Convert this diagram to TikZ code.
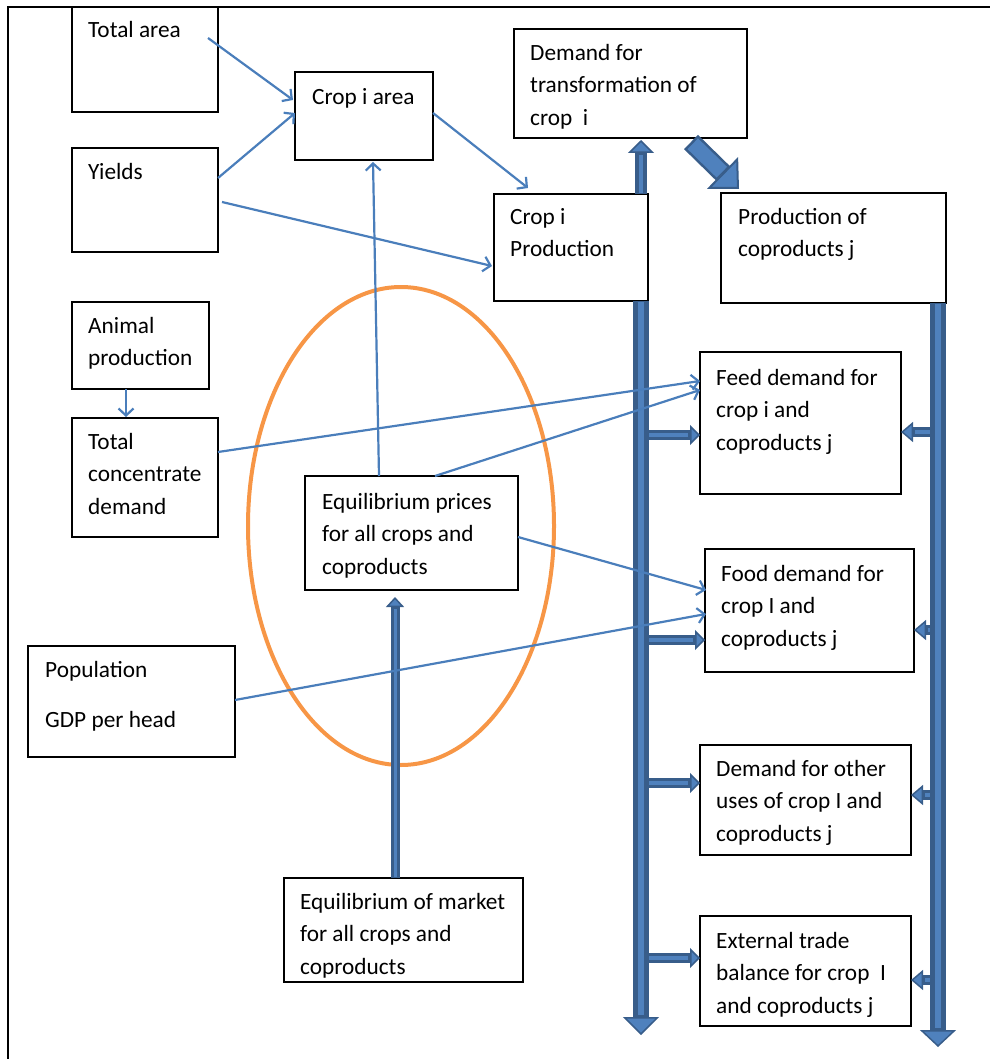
\documentclass[tikz,border=0pt]{standalone}
\usepackage{fontspec}
\setmainfont{Carlito}
\usetikzlibrary{arrows.meta,calc}
\definecolor{bdark}{HTML}{385D8A}
\definecolor{blight}{HTML}{4F81BD}
\definecolor{bthin}{HTML}{4A7EBB}
\definecolor{orng}{HTML}{F79646}
\newcommand{\st}{\rule{0pt}{18pt}}
\newcommand{\barrow}[5]{%
  \draw[draw=bdark,line width=#1pt,-{Triangle[length=#3pt,width=#2pt,fill=blight,line width=1.5pt]}] #4 -- #5;
  \draw[draw=blight,line width=#1pt/3,shorten >=#3pt+2pt,shorten <=1pt] #4 -- #5;}
\newcommand{\wideblock}[5]{%
  \draw[draw=bdark,line width=#1pt,-{Triangle[length=#3pt,width=#2pt,fill=blight,line width=2pt]}] #4 -- #5;
  \draw[draw=blight,line width=#1pt-5pt,shorten >=#3pt+1pt,shorten <=2.5pt] #4 -- #5;}
\begin{document}
\begin{tikzpicture}[x=1pt,y=-1pt,
  box/.style={draw=black,line width=1.5pt,fill=white,rectangle,inner sep=0pt,outer sep=0pt,anchor=north west},
  txt/.style={anchor=north west,inner sep=0pt,align=left,font=\fontsize{23.3}{32.5}\selectfont},
  thinarrow/.style={draw=bthin,line width=2.2pt,-{Straight Barb[length=7pt,width=15pt]}},
  oval/.style={draw=orng,line width=4pt}]
\useasboundingbox (0,0) rectangle (990,1059);
% frame
\draw[line width=2.5pt] (8,1059) -- (8,7) -- (990,7);
% ellipse
\draw[oval] (401,526) ellipse [x radius=153, y radius=239];
% boxes
\node[box,minimum width=146pt,minimum height=105pt] (ta) at (72,7) {};
\node[box,minimum width=146pt,minimum height=104pt] (yl) at (72,148) {};
\node[box,minimum width=138pt,minimum height=88pt] (ca) at (295,72) {};
\node[box,minimum width=233pt,minimum height=109pt] (dt) at (514,29) {};
\node[box,minimum width=154pt,minimum height=107pt] (cp) at (494,194) {};
\node[box,minimum width=225pt,minimum height=110pt] (pc) at (721,193) {};
\node[box,minimum width=137pt,minimum height=87pt] (ap) at (72,302) {};
\node[box,minimum width=146pt,minimum height=119pt] (tc) at (72,418) {};
\node[box,minimum width=213pt,minimum height=114pt] (ep) at (305,476) {};
\node[box,minimum width=201pt,minimum height=142pt] (fd) at (700,352) {};
\node[box,minimum width=209pt,minimum height=123pt] (fo) at (705,549) {};
\node[box,minimum width=207pt,minimum height=111pt] (po) at (28,646) {};
\node[box,minimum width=211pt,minimum height=110pt] (du) at (700,745) {};
\node[box,minimum width=239pt,minimum height=104pt] (em) at (284,878) {};
\node[box,minimum width=211pt,minimum height=110pt] (et) at (700,916) {};
% texts
\node[txt] (ta-t) at (88,19) {\st Total area};
\node[txt] (yl-t) at (88,161) {\st Yields};
\node[txt] (ca-t) at (312,86) {\st Crop i area};
\node[txt] (dt-t) at (530,42) {\st Demand for\\transformation of\\crop~~i};
\node[txt] (cp-t) at (510,206) {\st Crop i\\Production};
\node[txt] (pc-t) at (738,206) {\st Production of\\coproducts j};
\node[txt] (ap-t) at (88,315) {\st Animal\\production};
\node[txt] (tc-t) at (88,431) {\st Total\\concentrate\\demand};
\node[txt] (ep-t) at (322,491) {\st Equilibrium prices\\for all crops and\\coproducts};
\node[txt] (fd-t) at (716,367) {\st Feed demand for\\crop i and\\coproducts j};
\node[txt] (fo-t) at (721,563) {\st Food demand for\\crop I and\\coproducts j};
\node[txt] (po-t) at (45,659) {\st Population\\[17.5pt]GDP per head};
\node[txt] (du-t) at (716,758) {\st Demand for other\\uses of crop I and\\coproducts j};
\node[txt] (em-t) at (300,891) {\st Equilibrium of market\\for all crops and\\coproducts};
\node[txt] (et-t) at (716,930) {\st External trade\\balance for crop~~I\\and coproducts j};
% free ends of the buses
\coordinate (lb) at (641,1035);
\coordinate (rb) at (938,1047);
% branch arrows from left bus
\barrow{10}{20}{10}{($(fd.north west)+(-59,83)$)}{($(fd.north west)+(0,83)$)}
\barrow{10}{20}{10}{($(fo.north west)+(-64,91)$)}{($(fo.north west)+(0,91)$)}
\barrow{10}{20}{10}{($(du.north west)+(-59,38)$)}{($(du.north west)+(0,38)$)}
\barrow{10}{20}{10}{($(et.north west)+(-59,42)$)}{($(et.north west)+(0,42)$)}
% branch arrows from right bus
\barrow{10}{20}{12}{($(fd.north east)+(37,80)$)}{($(fd.north east)+(0,80)$)}
\barrow{10}{20}{12}{($(fo.north east)+(24,81)$)}{($(fo.north east)+(0,81)$)}
\barrow{10}{20}{12}{($(du.north east)+(27,50)$)}{($(du.north east)+(0,50)$)}
\barrow{10}{20}{12}{($(et.north east)+(27,64)$)}{($(et.north east)+(0,64)$)}
% buses
\barrow{12}{26}{13}{($(cp.north east)+(-7,0)$)}{($(dt.south west)+(127,2)$)}
\barrow{16}{36}{18}{($(cp.south east)+(-7,0)$)}{(lb)}
\barrow{16}{36}{17}{($(pc.south west)+(217,0)$)}{(rb)}
\wideblock{20}{44}{23}{($(dt.south east)+(-56,4)$)}{($(pc.north west)+(18,-4)$)}
\barrow{9}{18}{10}{($(em.north west)+(111,0)$)}{($(ep.south west)+(90,7)$)}
% thin arrows
\draw[thinarrow] ($(ta.north east)+(-10,31)$) -- ($(ca.north west)+(-2,28)$);
\draw[thinarrow] ($(yl.north east)+(0,30)$) -- ($(ca.north west)+(0,41)$);
\draw[thinarrow] ($(ca.north east)+(0,41)$) -- ($(cp.north west)+(34,-6)$);
\draw[thinarrow] ($(yl.north east)+(4,54)$) -- ($(cp.north west)+(-2,72)$);
\draw[thinarrow] ($(ap.south west)+(54,0)$) -- ($(tc.north west)+(54,-1)$);
\draw[thinarrow] ($(tc.north east)+(0,34)$) -- ($(fd.north west)+(0,29)$);
\draw[thinarrow] ($(ep.north west)+(74,0)$) -- ($(ca.south west)+(78,2)$);
\draw[thinarrow] ($(ep.north west)+(130,0)$) -- ($(fd.north west)+(0,38)$);
\draw[thinarrow] ($(ep.north east)+(0,61)$) -- ($(fo.north west)+(1,41)$);
\draw[thinarrow] ($(po.north east)+(0,54)$) -- ($(fo.north west)+(1,65)$);
\end{tikzpicture}
\end{document}
